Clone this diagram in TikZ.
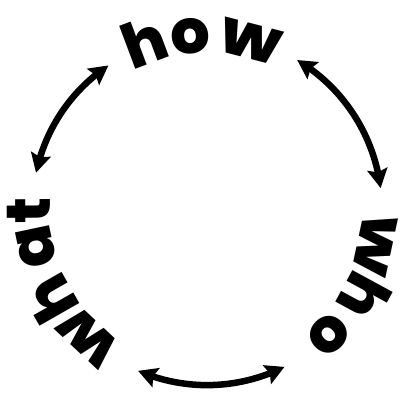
\documentclass[tikz,border=0pt]{standalone}
\usepackage{fontspec}
\newfontfamily\popfont{Poppins ExtraBold}
\usetikzlibrary{arrows.meta,bending}
\begin{document}
\begin{tikzpicture}[x=1pt,y=1pt,
  ltr/.style={font=\popfont\fontsize{62}{62}\selectfont, anchor=base, inner sep=0pt},
  wide/.style={xscale=1.12},
  cyc/.style={line width=6.5pt, {Stealth[length=19pt,width=20pt,inset=3pt]}-{Stealth[length=19pt,width=20pt,inset=3pt]}}]
\useasboundingbox (-207,-186) rectangle (194,210);
\coordinate (c) at (0,0);
% how
\node[ltr, rotate=20.5] (how-h) at (110.5:157) {h};
\node[ltr, rotate=5.5]  (how-o) at (95.5:157) {o};
\node[ltr, rotate=-14.5, wide] (how-w) at (75.5:157) {w};
% who
\node[ltr, rotate=-102, wide] (who-w) at (-12:154) {w};
\node[ltr, rotate=-118.5] (who-h) at (-29:157) {h};
\node[ltr, rotate=-135]   (who-o) at (-45.5:157) {o};
% what
\node[ltr, rotate=136.9, wide] (what-w) at (226.9:157) {w};
\node[ltr, rotate=119.7] (what-h) at (209.7:157) {h};
\node[ltr, rotate=102]   (what-a) at (192:157) {a};
\node[ltr, rotate=90.3]  (what-t) at (180.3:157) {t};
% arrow ends
\coordinate (a1) at (124.3:175);
\coordinate (a2) at (167.7:175);
\coordinate (b1) at (59:175);
\coordinate (b2) at (7.2:175);
\coordinate (d1) at (246.8:175);
\coordinate (d2) at (296.3:175);
\draw[cyc] (a1) to[bend right=21.7, looseness=0.9] (a2);
\draw[cyc] (b1) to[bend left=25.9, looseness=0.9] (b2);
\draw[cyc] (d1) to[bend right=24.75, looseness=0.9] (d2);
\end{tikzpicture}
\end{document}
